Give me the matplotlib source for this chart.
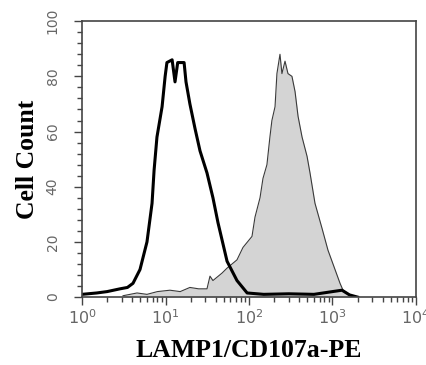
"""Flow cytometry overlay histogram: LAMP1/CD107a-PE vs isotype control."""

import matplotlib
matplotlib.use("Agg")
import matplotlib.pyplot as plt
from matplotlib.ticker import FixedLocator, LogLocator, MultipleLocator, NullFormatter

# isotype control (open black histogram)
control_x = [1.0, 1.5, 2.0, 2.85, 3.5, 4.08, 4.95, 6.0, 6.9, 7.3, 7.9, 9.1, 9.9,
             10.4, 12.0, 13.0, 14.0, 16.7, 17.6, 19.6, 22.6, 25.9, 31.4, 37.0,
             42.5, 54.6, 71.8, 95.0, 150.0, 300.0, 600.0, 1000.0, 1300.0, 1600.0, 2000.0]
control_y = [1.0, 1.5, 2.0, 3.0, 3.5, 5.0, 10.0, 20.0, 34.0, 46.0, 58.0, 69.0, 80.0,
             85.0, 86.0, 78.0, 85.0, 85.0, 78.0, 70.0, 61.0, 53.0, 45.0, 36.0,
             27.0, 13.0, 6.0, 1.5, 1.0, 1.2, 1.0, 2.0, 2.5, 0.8, 0.0]

# stained sample (filled gray histogram)
stained_x = [3.1, 4.56, 6.0, 8.0, 11.3, 15.0, 19.6, 25.0, 31.4, 34.1, 37.0, 47.5,
             54.6, 71.8, 84.7, 108.6, 118.0, 135.5, 147.0, 164.0, 178.0, 188.0,
             205.0, 216.0, 235.0, 248.0, 270.0, 293.0, 327.0, 356.0, 387.0, 432.0,
             496.0, 538.0, 617.0, 748.0, 883.0, 1072.0, 1231.0, 1337.0, 1622.0]
stained_y = [0.5, 1.5, 1.0, 2.0, 2.5, 2.0, 3.5, 3.0, 3.0, 7.6, 6.0, 8.7,
             10.5, 13.5, 18.0, 22.0, 29.0, 36.0, 43.0, 48.0, 58.0, 64.0,
             69.0, 81.0, 88.0, 81.0, 85.5, 81.0, 80.0, 74.5, 65.5, 58.0,
             51.0, 45.0, 34.0, 25.0, 17.0, 10.0, 5.0, 2.5, 0.7]

y_ticks = [0, 20, 40, 60, 80, 100]
x_ticks = [1, 10, 100, 1000, 10000]
x_tick_labels = [r"$10^{0}$", r"$10^{1}$", r"$10^{2}$", r"$10^{3}$", r"$10^{4}$"]

TICK_GRAY = "#666666"


def main() -> None:
    fig = plt.figure(figsize=(4.26, 3.65), dpi=100)
    ax = fig.add_axes([0.1925, 0.186, 0.784, 0.756])

    ax.fill_between(stained_x, stained_y, color="#d4d4d4", lw=0)
    ax.plot(stained_x, stained_y, color="#3a3a3a", lw=0.8)
    ax.plot(control_x, control_y, color="black", lw=2.2)

    ax.set_xscale("log")
    ax.set_xlim(1, 10000)
    ax.set_ylim(0, 100)

    ax.xaxis.set_major_locator(FixedLocator(x_ticks))
    ax.set_xticklabels(x_tick_labels)
    ax.xaxis.set_minor_locator(LogLocator(base=10, subs=range(2, 10)))
    ax.xaxis.set_minor_formatter(NullFormatter())
    ax.yaxis.set_major_locator(FixedLocator(y_ticks))
    ax.yaxis.set_minor_locator(MultipleLocator(4))

    ax.tick_params(axis="both", which="major", direction="out", length=6,
                   width=1.0, color="#444444", labelcolor=TICK_GRAY)
    ax.tick_params(axis="both", which="minor", direction="out", length=3.5,
                   width=1.0, color="#444444")
    ax.tick_params(axis="x", labelsize=11.5, pad=2)
    ax.tick_params(axis="y", labelsize=10, pad=10)
    for lbl in ax.get_yticklabels():
        lbl.set_rotation(90)
        lbl.set_va("center")

    for side in ["left", "right", "top", "bottom"]:
        ax.spines[side].set_color("#444444")
        ax.spines[side].set_linewidth(1.2)

    ax.set_xlabel("LAMP1/CD107a-PE", family="Liberation Serif", fontweight="bold",
                  fontsize=18.5, labelpad=9)
    ax.set_ylabel("Cell Count", family="Liberation Serif", fontweight="bold",
                  fontsize=18.5, labelpad=5)

    fig.savefig("out.png", dpi=100)
    plt.close(fig)


if __name__ == "__main__":
    main()
